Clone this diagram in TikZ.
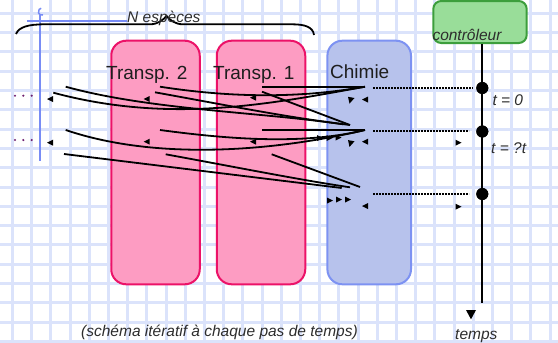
\documentclass[tikz,border=0pt]{standalone}
\usepackage{fontspec}
\setmainfont{Liberation Sans}
\definecolor{gridblue}{RGB}{219,227,251}
\definecolor{pinkfill}{RGB}{253,156,194}
\definecolor{pinkedge}{RGB}{236,18,104}
\definecolor{bluefill}{RGB}{183,194,236}
\definecolor{blueedge}{RGB}{125,146,242}
\definecolor{greenfill}{RGB}{153,221,153}
\definecolor{greenedge}{RGB}{60,158,60}
\definecolor{labelgray}{RGB}{30,30,30}
\definecolor{notegray}{RGB}{45,45,45}
\definecolor{dotpurple}{RGB}{110,30,110}
\definecolor{axisblue}{RGB}{120,140,245}
\tikzset{
  gridline/.style={draw=gridblue, line width=3pt},
  procbox/.style={rectangle, rounded corners=15pt, line width=2pt, inner sep=0pt},
  transpbox/.style={procbox, draw=pinkedge, fill=pinkfill, minimum width=88.5pt, minimum height=243.6pt},
  chembox/.style={procbox, draw=blueedge, fill=bluefill, minimum width=83.6pt, minimum height=243.6pt},
  ctrlbox/.style={procbox, rounded corners=8pt, draw=greenedge, fill=greenfill, minimum width=93.4pt, minimum height=42pt},
  boxlabel/.style={font=\fontsize{19}{22}\selectfont, text=labelgray, inner sep=0pt, anchor=base west},
  italabel/.style={font=\fontsize{15.5}{18}\selectfont\itshape, text=notegray, inner sep=0pt, anchor=base west},
  flow/.style={line width=1.8pt, black},
  timedash/.style={line width=2pt, dash pattern=on 2pt off 1pt},
  timedot/.style={circle, fill=black, inner sep=0pt, minimum size=12pt},
  ltip/.pic={\fill[black] (-3,0) -- (3,-3) -- (3,3) -- cycle;},
  rtip/.pic={\fill[black] (3,0) -- (-3,-3) -- (-3,3) -- cycle;},
  dtip/.pic={\fill[black] (-3,-3.2) -- (3.5,-2) -- (-1.5,3.6) -- cycle;}
}
\begin{document}
\begin{tikzpicture}[x=1pt,y=-1pt]
\useasboundingbox (0,0) rectangle (558,343);
\fill[white] (0,0) rectangle (558,343);

% squared paper
\foreach \k in {0,...,28}{\draw[gridline] ({12.5+19.2*\k},0) -- ({12.5+19.2*\k},343);}
\foreach \k in {0,...,17}{\draw[gridline] (0,{13.3+19.3*\k}) -- (558,{13.3+19.3*\k});}

% process boxes
\node[transpbox] (t2) at (155.5,162.5) {};
\node[transpbox] (t1) at (261,162.5) {};
\node[chembox] (chem) at (369.2,162.5) {};
\node[ctrlbox] (ctrl) at (480,22) {};

\node[boxlabel] (lt2) at (106,79.3) {Transp. 2};
\node[boxlabel] (lt1) at (213,79.3) {Transp. 1};
\node[boxlabel] (lch) at (330,78.3) {Chimie};
\node[italabel] (lctrl) at (432.3,40.3) {contrôleur};

% species axis and brace
\draw[axisblue, line width=2pt] (40,14) -- (40,161);
\draw[axisblue, line width=2pt] (27,21) -- (127,21);
\draw[axisblue, line width=1.5pt] (43,15) arc[start angle=70, end angle=260, radius=3.5];
\draw[black, line width=1.8pt] (16,34) .. controls (19,27) and (28,24.3) .. (45,24.3) -- (150,24.3)
  .. controls (158,24.3) and (163,20) .. (166.5,16) .. controls (170,20) and (175,24.3) .. (183,24.3)
  -- (292,24.3) .. controls (305,24.3) and (313,27) .. (314,35);
\node[italabel] (lspec) at (127,22.5) {N espèces};

\foreach \x in {15,23.3,31.7}{
  \fill[dotpurple] (\x,95.7) circle (1.2pt);
  \fill[dotpurple] (\x,140) circle (1.2pt);
}

% time axis
\node[timedot] (d0) at (482.3,88) {};
\node[timedot] (d1) at (482.3,131.5) {};
\node[timedot] (d2) at (482.3,194) {};
\coordinate (tend) at (482.3,303);
\draw[line width=2pt] (ctrl.south -| d0) -- (tend);
\node[timedot] at (d0) {};
\node[timedot] at (d1) {};
\node[timedot] at (d2) {};
\fill[black] (466,310) -- (476,310) -- (471,319.3) -- cycle;
\node[italabel] (lt0) at (492.3,105) {t = 0};
\node[italabel] (ldt) at (491,153.3) {t = ?t};
\node[italabel] (ltemps) at (455,339.5) {temps};

% dotted links from the chemistry step to the time axis
\coordinate (q0s) at (373,88);   \coordinate (q0e) at (472.7,88);
\coordinate (q1s) at (373,131);  \coordinate (q1e) at (469,131);
\coordinate (q2s) at (373,194);  \coordinate (q2e) at (469,194);
\draw[timedash] (q0s) -- (q0e);
\draw[timedash] (q1s) -- (q1e);
\draw[timedash] (q2s) -- (q2e);

% exchange paths between the steps
\coordinate (hubA) at (365,86.7);
\coordinate (hubB) at (343.3,124.3);
\coordinate (hubC) at (350,125);
\coordinate (hubD) at (365,130);
\coordinate (hubE) at (341.7,188);
\coordinate (hubF) at (350,187.3);
\coordinate (hubG) at (360,187);
\coordinate (sA1) at (65.7,86.7);
\coordinate (sA2) at (53.3,92.7);
\coordinate (sA3) at (160,86.7);
\coordinate (sA4) at (155,92.3);
\coordinate (sA5) at (262,91.7);
\coordinate (sA6) at (262,86.7);
\coordinate (sB1) at (65.7,130);
\coordinate (sB2) at (160,130);
\coordinate (sB3) at (262,130);
\coordinate (sC1) at (64,154);
\coordinate (sC2) at (165.7,154.3);
\coordinate (sC3) at (271.7,154.3);

\draw[flow] (sA1) .. controls (150,110) and (260,112) .. (hubB);
\draw[flow] (sA2) .. controls (170,124) and (270,104) .. (hubA);
\draw[flow] (sA3) .. controls (220,96) and (290,100) .. (hubA);
\draw[flow] (sA4) .. controls (220,104) and (290,118) .. (hubC);
\draw[flow] (sA5) -- (hubC);
\draw[flow] (sA6) -- (hubA);
\draw[flow] (sB1) .. controls (160,162) and (280,150) .. (hubD);
\draw[flow] (sB2) .. controls (220,138) and (300,146) .. (hubD);
\draw[flow] (sB3) -- (hubD);
\draw[flow] (sC1) -- (hubE);
\draw[flow] (sC2) .. controls (230,166) and (300,180) .. (hubF);
\draw[flow] (sC3) -- (hubG);

% small arrow tips
\pic at (50,99) {ltip};
\pic at (50,142.7) {ltip};
\pic at (146.7,99) {ltip};
\pic at (146.7,141.7) {ltip};
\pic at (253,97.7) {ltip};
\pic at (253,141.7) {ltip};
\pic at (365,99.5) {ltip};
\pic at (365,141.7) {ltip};
\pic at (365,206) {ltip};
\pic at (351,100) {dtip};
\pic at (351,143.3) {dtip};
\pic at (320,138) {rtip};
\pic at (329.5,138) {rtip};
\pic at (338.5,137.5) {rtip};
\pic at (330,200.5) {rtip};
\pic at (339,199.5) {rtip};
\pic at (348,199.5) {rtip};
\pic at (458.5,142.7) {rtip};
\pic at (458.5,206.7) {rtip};

\node[italabel] (lcap) at (81,336.5) {(schéma itératif à chaque pas de temps)};
\end{tikzpicture}
\end{document}
